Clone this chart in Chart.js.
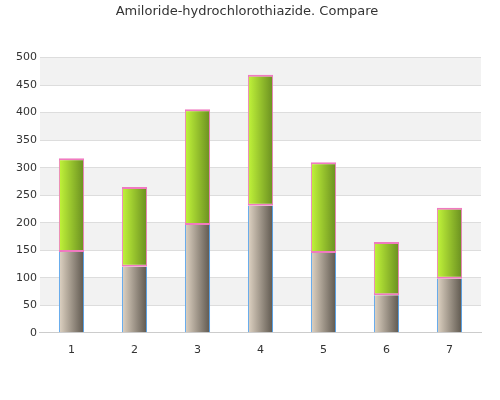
<!DOCTYPE html>
<html>
<head>
<script src="https://cdn.jsdelivr.net/npm/chart.js"></script>
<style>body{margin:0;background:#fff}#wrap{width:500px;height:400px}</style>
</head>
<body>
<div id="wrap"><canvas id="mycanvas"></canvas></div>
<script>
var labels = ['1','2','3','4','5','6','7'];
var lower = [147, 120, 196, 231, 145, 68, 98];
var upper = [170, 145, 210, 238, 165, 97, 129];

// alternating grey bands
var bands = {
  id: 'bands',
  beforeDraw: function(chart) {
    var c = chart.ctx, a = chart.chartArea, y = chart.scales.y;
    c.save();
    c.fillStyle = '#f2f2f2';
    for (var v = 50; v < 500; v += 100) {
      var t = y.getPixelForValue(v + 50), b = y.getPixelForValue(v);
      c.fillRect(a.left, t, a.right - a.left, b - t);
    }
    c.restore();
  }
};

// horizontal gradient on each bar, built once the x scale is laid out
var grads = {
  id: 'grads',
  afterLayout: function(chart) {
    var c = chart.ctx, x = chart.scales.x;
    var w = 0.4 * (x.right - x.left) / labels.length;
    var stops = [['#e0d4c4', '#5e574e'], ['#c2f53a', '#6a8f20']];
    chart.data.datasets.forEach(function(ds, i) {
      ds.backgroundColor = labels.map(function(l, j) {
        var cx = x.getPixelForValue(j);
        var g = c.createLinearGradient(cx - w / 2, 0, cx + w / 2, 0);
        g.addColorStop(0, stops[i][0]);
        g.addColorStop(1, stops[i][1]);
        return g;
      });
    });
  }
};

new Chart(document.getElementById('mycanvas'), {
  type: 'bar',
  data: {
    labels: labels,
    datasets: [
      { data: lower, backgroundColor: '#a09080', borderColor: '#4a9ff0', borderWidth: {top: 0, left: 1, right: 1, bottom: 0}, borderSkipped: false },
      { data: upper, backgroundColor: '#9c3', borderColor: '#f07ac0', borderWidth: {top: 2, left: 1, right: 1, bottom: 2}, borderSkipped: false }
    ]
  },
  options: {
    responsive: true,
    maintainAspectRatio: false,
    animation: false,
    datasets: { bar: { barPercentage: 0.4, categoryPercentage: 1 } },
    layout: { padding: { left: 13, right: 19, top: 0, bottom: 40 } },
    plugins: {
      legend: { display: false },
      tooltip: { enabled: false },
      title: { display: true, text: 'Amiloride-hydrochlorothiazide. Compare', color: '#333',
        font: { family: 'DejaVu Sans', size: 13, weight: 'normal' }, padding: { top: 4, bottom: 38 } }
    },
    scales: {
      x: { stacked: true, grid: { display: false }, border: { color: '#ccc' },
        ticks: { color: '#333', font: { family: 'DejaVu Sans', size: 11 } } },
      y: { stacked: true, min: 0, max: 500, ticks: { stepSize: 50, color: '#333', font: { family: 'DejaVu Sans', size: 11 } },
        grid: { color: '#ddd', drawTicks: false }, border: { display: false } }
    }
  },
  plugins: [bands, grads]
});
</script>
</body>
</html>
